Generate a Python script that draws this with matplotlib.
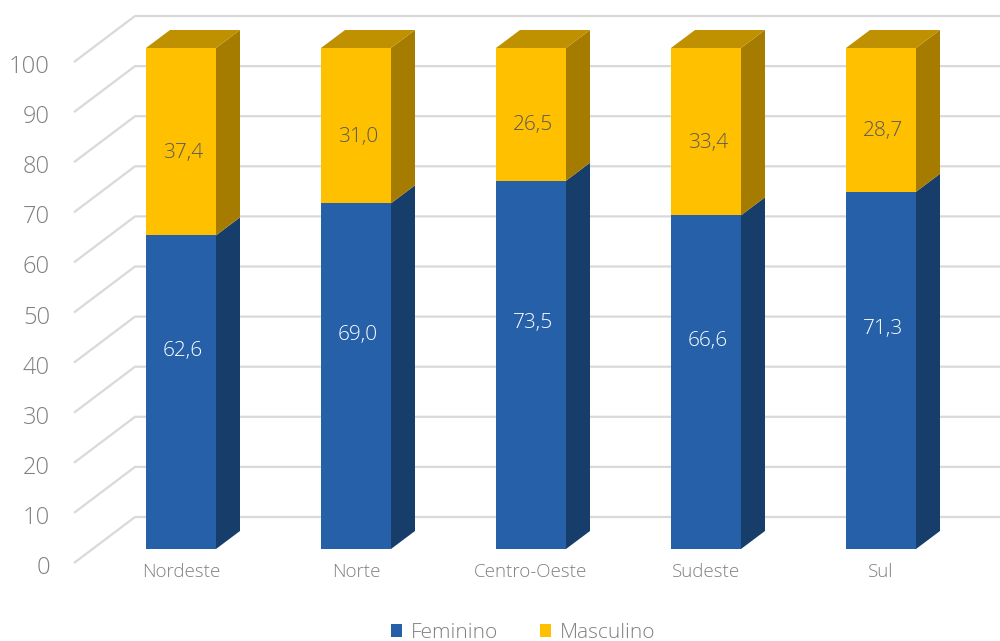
import matplotlib
matplotlib.use("Agg")
import matplotlib.pyplot as plt
from matplotlib.patches import Polygon, Patch

# dados (%)
regioes = ["Nordeste", "Norte", "Centro-Oeste", "Sudeste", "Sul"]
feminino = [62.6, 69.0, 73.5, 66.6, 71.3]
masculino = [37.4, 31.0, 26.5, 33.4, 28.7]
yticks = [0, 10, 20, 30, 40, 50, 60, 70, 80, 90, 100]

# cores
azul, azul_lado = "#2560A8", "#173D6B"
amarelo, amarelo_lado, amarelo_topo = "#FFC000", "#A57C00", "#BF9000"
grade = "#D9D9D9"
cinza = "#808080"

plt.rcParams["font.family"] = ["Open Sans", "DejaVu Sans"]
plt.rcParams["font.weight"] = "light"

fig = plt.figure(figsize=(10, 6.41), dpi=100)
ax = fig.add_axes([0, 0, 1, 1])

# escala: 175 px por categoria, 5.01 px por unidade
px_x = 1 / 175.0
px_y = 1 / 5.01
ax.set_xlim(-181 * px_x, (1000 - 181) * px_x)
ax.set_ylim(-(641 - 549) * px_y, 549 * px_y)
ax.axis("off")

w = 70 * px_x          # largura da barra
dx, dy = 24 * px_x, 18 * px_y   # profundidade da barra
# parede / grade
fx, fy = (74 - 181) * px_x, -14 * px_y     # canto frontal
bx, by = (135 - 181) * px_x, 32 * px_y     # canto do fundo
xmax = ax.get_xlim()[1]

for v in yticks:
    ax.plot([fx, bx, xmax], [v + fy, v + by, v + by], color=grade, lw=1.6,
            solid_capstyle="butt", zorder=1)
    ax.text(50 * px_x + ax.get_xlim()[0], v + fy - 5 * px_y, str(v), ha="right", va="center",
            fontsize=17, color=cinza)


def caixa(x, base, topo, frente, lado, cor_topo=None):
    xl, xr = x - w / 2, x + w / 2
    ax.add_patch(Polygon([(xl, base), (xr, base), (xr, topo), (xl, topo)],
                         closed=True, facecolor=frente, edgecolor="none", zorder=3))
    ax.add_patch(Polygon([(xr, base), (xr + dx, base + dy), (xr + dx, topo + dy), (xr, topo)],
                         closed=True, facecolor=lado, edgecolor="none", zorder=3))
    if cor_topo is not None:
        ax.add_patch(Polygon([(xl, topo), (xl + dx, topo + dy), (xr + dx, topo + dy), (xr, topo)],
                             closed=True, facecolor=cor_topo, edgecolor="none", zorder=3))


for i, (f, m) in enumerate(zip(feminino, masculino)):
    caixa(i, 0, f, azul, azul_lado)
    caixa(i, f, f + m, amarelo, amarelo_lado, amarelo_topo)
    ax.text(i + 2 * px_x, f / 2 + 8.3, f"{f:.1f}".replace(".", ","), ha="center", va="center",
            fontsize=15, color="white", zorder=4)
    ax.text(i + 2 * px_x, f + m / 2 - 2.2, f"{m:.1f}".replace(".", ","), ha="center", va="center",
            fontsize=15, color="#595959", zorder=4)
    ax.text(i, -23 * px_y, regioes[i], ha="center", va="center", fontsize=13.5, color=cinza)

handles = [Patch(facecolor=azul, label="Feminino"), Patch(facecolor=amarelo, label="Masculino")]
fig.legend(handles=handles, loc="center", bbox_to_anchor=(0.523, 1 - 633 / 641), ncol=2,
           frameon=False, fontsize=15, labelcolor=cinza, handlelength=0.55, handleheight=0.55,
           handletextpad=0.4, columnspacing=2.0)

fig.savefig("out.png", dpi=100)
